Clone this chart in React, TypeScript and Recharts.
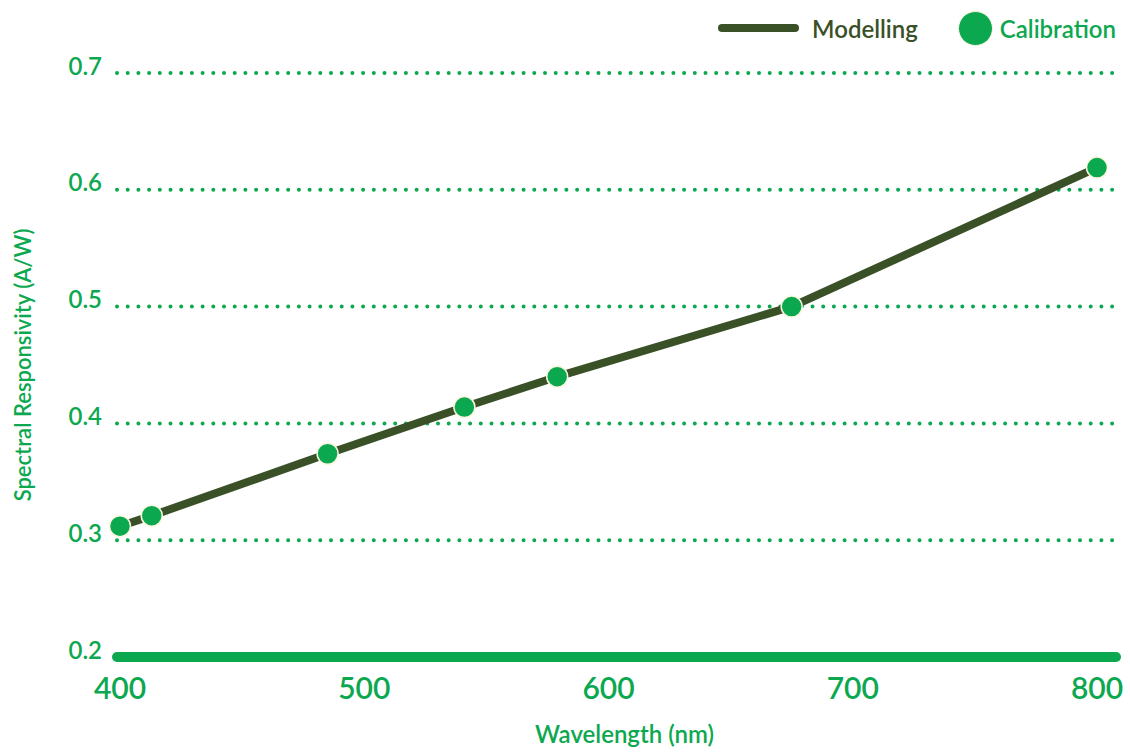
import React from 'react';
import { ComposedChart, Line, Scatter, XAxis, YAxis, CartesianGrid, Legend } from 'recharts';

const wavelengths = [400, 413, 485, 541, 579, 675, 800];
const modelling = [0.312, 0.321, 0.374, 0.414, 0.440, 0.500, 0.619];
const calibration = [0.312, 0.321, 0.374, 0.414, 0.440, 0.500, 0.619];
const xTicks = [400, 500, 600, 700, 800];
const yTicks = [0.2, 0.3, 0.4, 0.5, 0.6, 0.7];

const GREEN = '#0ca850';
const DARK = '#3a5128';
const CREAM = '#fbf6df';
const FONT = 'Lato, "Open Sans", sans-serif';

const data = wavelengths.map((w, i) => ({ wavelength: w, modelling: modelling[i], calibration: calibration[i] }));

const LegendContent = () => (
  <div style={{ display: 'flex', alignItems: 'center', height: 40, fontFamily: FONT, fontSize: 24, fontWeight: 600 }}>
    <div style={{ width: 81, height: 8, borderRadius: 4, background: DARK }} />
    <span style={{ color: DARK, marginLeft: 13 }}>Modelling</span>
    <div style={{ width: 33, height: 33, borderRadius: 18, background: GREEN, border: `1.5px solid ${CREAM}`, marginLeft: 40 }} />
    <span style={{ color: GREEN, marginLeft: 7 }}>Calibration</span>
  </div>
);

const YLabel = (props: any) => {
  const vb = props.viewBox || {};
  const cy = (vb.y || 0) + (vb.height || 0) / 2;
  const cx = 22;
  return (
    <text x={cx} y={cy} transform={`rotate(-90, ${cx}, ${cy})`} textAnchor="middle" dominantBaseline="central"
      fill={GREEN} fontFamily={FONT} fontSize={22} fontWeight={600}>
      Spectral Responsivity (A/W)
    </text>
  );
};

const XLabel = (props: any) => {
  const vb = props.viewBox || {};
  const cx = (vb.x || 0) + (vb.width || 0) / 2 + 8;
  const y = (vb.y || 0) + (vb.height || 0) - 9;
  return (
    <text x={cx} y={y} textAnchor="middle" fill={GREEN} fontFamily={FONT} fontSize={24} fontWeight={600}>
      Wavelength (nm)
    </text>
  );
};

const Dot = (p: any) => (
  <circle cx={p.cx} cy={p.cy} r={10.5} fill={GREEN} stroke={CREAM} strokeWidth={1.5} />
);

export default function App() {
  return (
    <div style={{ position: 'absolute', left: 0, top: 0, width: 1130, height: 752, background: '#fff' }}>
      <ComposedChart width={1130} height={752} data={data} margin={{ top: 33, right: 14, left: 0, bottom: 0 }}>
        <CartesianGrid horizontal vertical={false} stroke={GREEN} strokeWidth={4} strokeDasharray="0 10.7" strokeLinecap="round" />
        <XAxis
          dataKey="wavelength"
          type="number"
          domain={[400, 800]}
          ticks={xTicks}
          padding={{ left: 3, right: 19 }}
          height={95}
          axisLine={{ stroke: GREEN, strokeWidth: 10, strokeLinecap: 'round' }}
          tickLine={false}
          tickSize={0}
          tickMargin={21}
          tick={{ fill: GREEN, fontFamily: FONT, fontSize: 30, fontWeight: 600 }}
          label={<XLabel />}
        />
        <YAxis
          type="number"
          domain={[0.2, 0.7]}
          ticks={yTicks}
          width={117}
          axisLine={false}
          tickLine={false}
          tickSize={0}
          tickMargin={15}
          tick={{ fill: GREEN, fontFamily: FONT, fontSize: 24, fontWeight: 600, dy: -7 }}
          tickFormatter={(v: number) => v.toFixed(1)}
          label={<YLabel />}
        />
        <Legend verticalAlign="top" align="right" content={<LegendContent />} wrapperStyle={{ top: 8, right: 14, left: 'auto', width: 'auto' }} />
        <Line dataKey="modelling" name="Modelling" stroke={DARK} strokeWidth={8} dot={false} activeDot={false} strokeLinecap="round" strokeLinejoin="round" isAnimationActive={false} />
        <Scatter dataKey="calibration" name="Calibration" shape={<Dot />} isAnimationActive={false} />
      </ComposedChart>
    </div>
  );
}
